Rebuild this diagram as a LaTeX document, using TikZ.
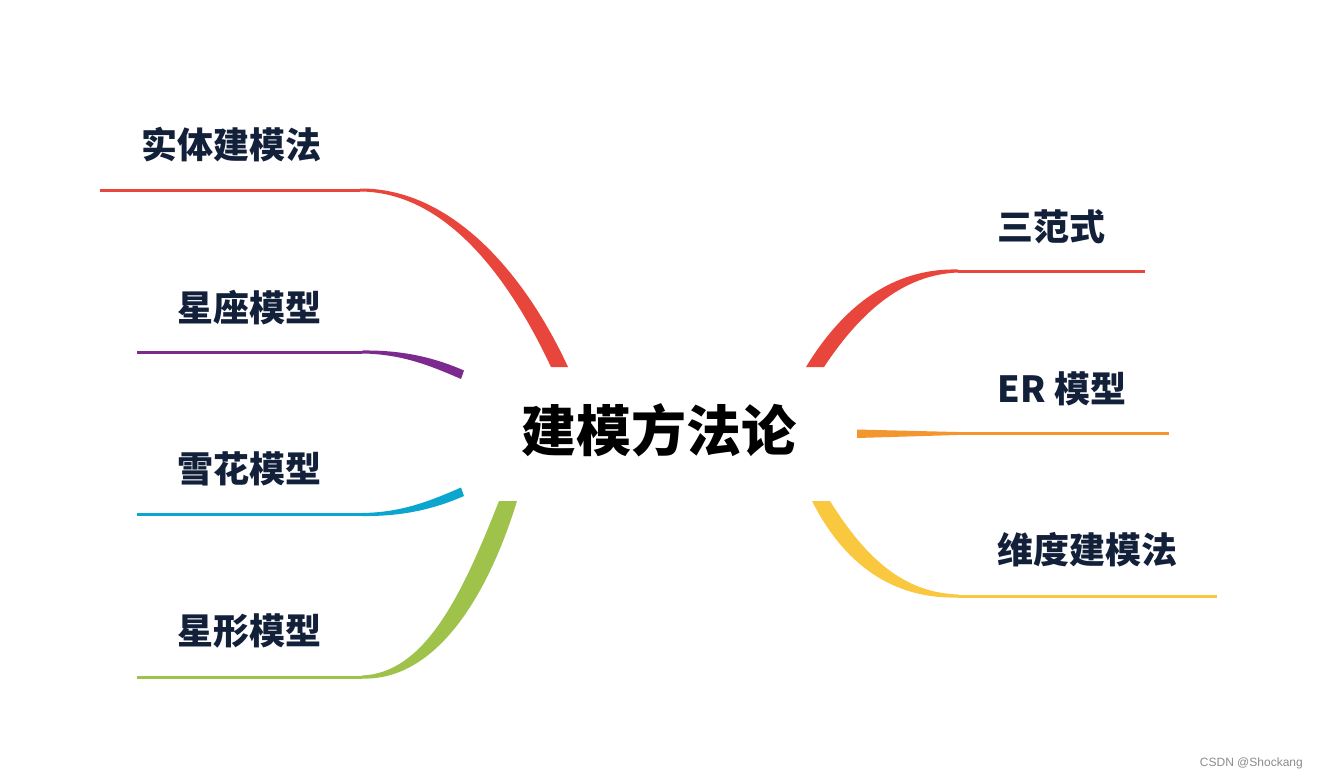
\documentclass[tikz,border=0pt]{standalone}
\usepackage{fontspec}
\newfontfamily\cjk{Noto Sans CJK SC}
\newfontfamily\wm{Liberation Sans}
\definecolor{redc}{HTML}{E8453C}
\definecolor{purc}{HTML}{7D2A8F}
\definecolor{cyac}{HTML}{0AA6CF}
\definecolor{grnc}{HTML}{9EC24A}
\definecolor{orac}{HTML}{F3962F}
\definecolor{yelc}{HTML}{F9C83E}
\definecolor{labc}{HTML}{13203A}
\tikzset{
  lbl/.style={font=\cjk\bfseries\fontsize{36}{42}\selectfont, text=labc, inner sep=0pt, anchor=base},
  ctr/.style={font=\cjk\bfseries\fontsize{55}{60}\selectfont, text=black, inner sep=0pt, anchor=base},
  twig/.style={line width=3pt},
}
\begin{document}
\begin{tikzpicture}[x=1pt,y=-1pt]
\useasboundingbox[fill=white] (0,0) rectangle (1318,780);
% center
\node[ctr] (c) at (659,451) {建模方法论};
% labels
\node[lbl] (l1) at (231,158) {实体建模法};
\node[lbl] (l2) at (249.5,321) {星座模型};
\node[lbl] (l3) at (249.5,482) {雪花模型};
\node[lbl] (l4) at (249.5,644) {星形模型};
\node[lbl] (r1) at (1051,240) {三范式};
\node[lbl] (r2) at (1062,402) {ER 模型};
\node[lbl] (r3) at (1087,563) {维度建模法};
% junction coordinates
\coordinate (a1) at (100,190); \coordinate (j1) at (360,190);
\coordinate (a2) at (137,352); \coordinate (j2) at (362,352);
\coordinate (a3) at (137,514.5); \coordinate (j3) at (362,514.5);
\coordinate (a4) at (137,677); \coordinate (j4) at (362,677);
\coordinate (b1) at (1145,271); \coordinate (k1) at (958,271);
\coordinate (b2) at (1169,433.5); \coordinate (k2) at (957,433.5);
\coordinate (b3) at (1217,596); \coordinate (k3) at (958,596);
% left branches
\fill[redc] (360,188.5) .. controls (453,188) and (526,276) .. (568,367) -- (551,367) .. controls (512,284) and (449,192) .. (360,191.5) -- cycle;
\draw[redc,twig] (a1) -- (j1);
\fill[purc] (362,350.5) .. controls (400,350) and (432,356.5) .. (464,370.5) -- (461,379) .. controls (428,364.5) and (400,354) .. (362,353.5) -- cycle;
\draw[purc,twig] (a2) -- (j2);
\fill[cyac] (362,516) .. controls (400,516.5) and (432,510) .. (464,496) -- (461,487.5) .. controls (428,502) and (400,512.5) .. (362,513) -- cycle;
\draw[cyac,twig] (a3) -- (j3);
\fill[grnc] (362,678.5) .. controls (433,681) and (486,602) .. (517,501) -- (499,501) .. controls (462,595) and (425,673) .. (362,675.5) -- cycle;
\draw[grnc,twig] (a4) -- (j4);
% right branches
\fill[redc] (806,367) .. controls (848,298) and (900,268) .. (958,269.5) -- (958,272.5) .. controls (906,274.5) and (863,308) .. (824,367) -- cycle;
\draw[redc,twig] (k1) -- (b1);
\fill[orac] (857,429.5) -- (957,432) -- (957,435) -- (857,438) -- cycle;
\draw[orac,twig] (k2) -- (b2);
\fill[yelc] (812,501) .. controls (848,572) and (900,599) .. (958,597.5) -- (958,594.5) .. controls (906,592.5) and (868,562) .. (830,501) -- cycle;
\draw[yelc,twig] (k3) -- (b3);
% watermark
\node[font=\wm\fontsize{12}{14}\selectfont, text=black!45, inner sep=0pt, anchor=east] (w) at (1303,763) {CSDN @Shockang};
\end{tikzpicture}
\end{document}
